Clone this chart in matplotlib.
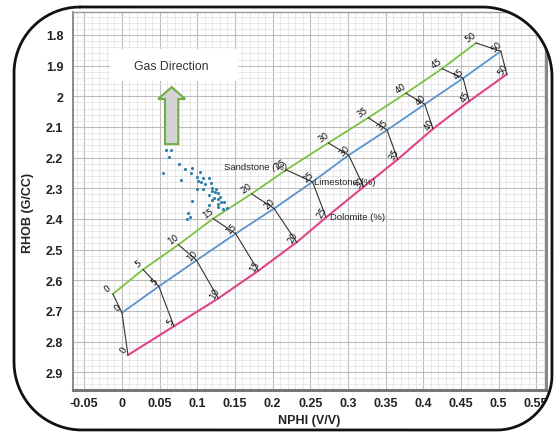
import numpy as np
import matplotlib
matplotlib.use('Agg')
import matplotlib.pyplot as plt
from matplotlib.path import Path
from matplotlib.patches import PathPatch, Polygon, Rectangle
from matplotlib.ticker import MultipleLocator

# ---------------- data ----------------
porosity_labels = ['0', '5', '10', '15', '20', '25', '30', '35', '40', '45', '50']

sand_nphi = [-0.012, 0.028, 0.075, 0.121, 0.172, 0.218, 0.274, 0.327, 0.377, 0.425, 0.470]
sand_rhob = [2.645, 2.565, 2.484, 2.399, 2.318, 2.240, 2.152, 2.070, 1.990, 1.910, 1.826]

lime_nphi = [0.000, 0.049, 0.099, 0.151, 0.202, 0.253, 0.301, 0.352, 0.402, 0.453, 0.503]
lime_rhob = [2.706, 2.620, 2.535, 2.448, 2.366, 2.279, 2.192, 2.110, 2.026, 1.941, 1.853]

dolo_nphi = [0.008, 0.069, 0.128, 0.181, 0.232, 0.271, 0.321, 0.366, 0.413, 0.461, 0.511]
dolo_rhob = [2.844, 2.750, 2.659, 2.569, 2.476, 2.395, 2.295, 2.206, 2.106, 2.016, 1.928]

gas_nphi = [0.058, 0.065, 0.063, 0.055, 0.076, 0.084, 0.093, 0.078, 0.092, 0.103,
            0.099, 0.107, 0.115, 0.101, 0.105, 0.110, 0.118, 0.120, 0.125, 0.099,
            0.108, 0.119, 0.124, 0.128, 0.115, 0.122, 0.127, 0.130, 0.120, 0.093,
            0.132, 0.127, 0.135, 0.128, 0.139, 0.134, 0.088, 0.090, 0.086, 0.115]
gas_rhob = [2.176, 2.176, 2.197, 2.250, 2.222, 2.238, 2.233, 2.272, 2.250, 2.246,
            2.262, 2.266, 2.266, 2.277, 2.281, 2.287, 2.283, 2.298, 2.302, 2.303,
            2.303, 2.310, 2.312, 2.317, 2.323, 2.331, 2.334, 2.329, 2.339, 2.341,
            2.344, 2.352, 2.344, 2.360, 2.364, 2.369, 2.382, 2.394, 2.399, 2.355]

xticks = [-0.05, 0.0, 0.05, 0.1, 0.15, 0.2, 0.25, 0.3, 0.35, 0.4, 0.45, 0.5, 0.55]
xtick_labels = ['-0.05', '0', '0.05', '0.1', '0.15', '0.2', '0.25', '0.3', '0.35',
                '0.4', '0.45', '0.5', '0.55']
yticks = [1.8, 1.9, 2.0, 2.1, 2.2, 2.3, 2.4, 2.5, 2.6, 2.7, 2.8, 2.9]
ytick_labels = ['1.8', '1.9', '2', '2.1', '2.2', '2.3', '2.4', '2.5', '2.6', '2.7',
                '2.8', '2.9']

# ---------------- figure ----------------
W, H = 556, 435
fig = plt.figure(figsize=(W / 100, H / 100), dpi=100)
fig.patch.set_facecolor('white')

ax = fig.add_axes([73 / W, 1 - 391 / H, (546 - 73) / W, (391 - 13) / H])
ax.set_xlim(-0.065, 0.563)
ax.set_ylim(2.958, 1.725)

ax.set_xticks(xticks)
ax.set_xticklabels(xtick_labels)
ax.set_yticks(yticks)
ax.set_yticklabels(ytick_labels)
ax.xaxis.set_minor_locator(MultipleLocator(0.01))
ax.yaxis.set_minor_locator(MultipleLocator(0.02))
ax.grid(which='major', color='#bcbcbc', lw=0.8)
ax.grid(which='minor', color='#e0e0e0', lw=0.5)
ax.set_axisbelow(True)
ax.tick_params(which='both', length=0)
ax.tick_params(axis='x', pad=5)
ax.tick_params(axis='y', pad=7)
for lab in ax.get_xticklabels() + ax.get_yticklabels():
    lab.set_fontfamily('Liberation Sans')
    lab.set_fontweight('bold')
    lab.set_fontsize(9)
    lab.set_color('#222222')

ax.spines['left'].set_color('#777777')
ax.spines['left'].set_linewidth(1.2)
ax.spines['top'].set_color('#999999')
ax.spines['top'].set_linewidth(1.0)
ax.spines['bottom'].set_color('#777777')
ax.spines['bottom'].set_linewidth(2.2)
ax.spines['right'].set_color('#888888')
ax.spines['right'].set_linewidth(2.2)

ax.set_xlabel('NPHI (V/V)', fontfamily='Liberation Sans', fontweight='bold',
              fontsize=9, color='#222222', labelpad=4)
ax.set_ylabel('RHOB (G/CC)', fontfamily='Liberation Sans', fontweight='bold',
              fontsize=9, color='#222222')
ax.yaxis.set_label_coords(-0.082, 0.47)

# lithology lines
green = '#7cc242'
blue = '#5a94cc'
pink = '#e2428a'
ax.plot(sand_nphi, sand_rhob, color=green, lw=1.3, zorder=3)
ax.plot(lime_nphi, lime_rhob, color=blue, lw=1.3, zorder=3)
ax.plot(dolo_nphi, dolo_rhob, color=pink, lw=1.5, zorder=3)

# iso-porosity connectors
for i in range(len(porosity_labels)):
    ax.plot([sand_nphi[i], lime_nphi[i], dolo_nphi[i]],
            [sand_rhob[i], lime_rhob[i], dolo_rhob[i]],
            color='#333333', lw=0.8, zorder=4)

# porosity labels
lab_kw = dict(textcoords='offset points', ha='center', va='center',
              fontsize=6.3, color='#111111', fontfamily='DejaVu Sans', zorder=6)
for i, t in enumerate(porosity_labels):
    ax.annotate(t, (sand_nphi[i], sand_rhob[i]), xytext=(-3.8, 4.3), rotation=35, **lab_kw)
    ax.annotate(t, (lime_nphi[i], lime_rhob[i]), xytext=(-3.0, 3.8), rotation=45, **lab_kw)
    ax.annotate(t, (dolo_nphi[i], dolo_rhob[i]), xytext=(-2.8, 3.8), rotation=60, **lab_kw)

# lithology names
name_kw = dict(fontsize=6.8, fontfamily='Liberation Sans', color='#222222',
               ha='left', va='center', zorder=7)
ax.text(0.135, 2.230, 'Sandstone (%)', **name_kw)
ax.text(0.255, 2.277, 'Limestone (%)', **name_kw)
ax.text(0.276, 2.393, 'Dolomite (%)', **name_kw)

# gas points
ax.scatter(gas_nphi, gas_rhob, s=5, color='#2f80a8', zorder=5, linewidths=0)

# gas direction box + arrow
ax.add_patch(Rectangle((-0.016, 1.846), 0.170, 0.104, facecolor='white',
                       edgecolor='none', zorder=5))
ax.text(0.065, 1.900, 'Gas Direction', fontsize=8.8, fontfamily='Liberation Sans',
        color='#333333', ha='center', va='center', zorder=6)
tipx, tipy = 0.066, 1.970
hb, bot = 2.009, 2.156
hw, sw = 0.018, 0.0088
arrow_pts = [(tipx, tipy), (tipx + hw, hb), (tipx + sw, hb), (tipx + sw, bot),
             (tipx - sw, bot), (tipx - sw, hb), (tipx - hw, hb)]
ax.add_patch(Polygon(arrow_pts, closed=True, facecolor='#d4d4d4',
                     edgecolor='#6fae45', lw=1.5, zorder=6))

# ---------------- rounded outer frame + mask ----------------
ov = fig.add_axes([0, 0, 1, 1], zorder=10)
ov.set_xlim(0, W)
ov.set_ylim(H, 0)
ov.axis('off')
ov.patch.set_alpha(0)

x0, y0, x1, y1 = 14, 8, 552, 431
r_tl, r_tr, r_br, r_bl = 66, 70, 55, 68


def arc(cx, cy, r, a0, a1, n=40):
    t = np.radians(np.linspace(a0, a1, n))
    return np.column_stack([cx + r * np.cos(t), cy + r * np.sin(t)])


inner = np.vstack([
    [[x0 + r_tl, y0], [x1 - r_tr, y0]],
    arc(x1 - r_tr, y0 + r_tr, r_tr, -90, 0),
    [[x1, y1 - r_br]],
    arc(x1 - r_br, y1 - r_br, r_br, 0, 90),
    [[x0 + r_bl, y1]],
    arc(x0 + r_bl, y1 - r_bl, r_bl, 90, 180),
    [[x0, y0 + r_tl]],
    arc(x0 + r_tl, y0 + r_tl, r_tl, 180, 270),
])
outer = np.array([[-10, -10], [-10, H + 10], [W + 10, H + 10], [W + 10, -10]])

verts = np.vstack([outer, outer[:1], inner, inner[:1]])
codes = ([Path.MOVETO] + [Path.LINETO] * (len(outer) - 1) + [Path.CLOSEPOLY] +
         [Path.MOVETO] + [Path.LINETO] * (len(inner) - 1) + [Path.CLOSEPOLY])
ov.add_patch(PathPatch(Path(verts, codes), facecolor='white', edgecolor='none'))
border = np.vstack([inner, inner[:1]])
ov.plot(border[:, 0], border[:, 1], color='#111111', lw=2.0, solid_capstyle='round')

fig.savefig('out.png', dpi=100, facecolor='white')
